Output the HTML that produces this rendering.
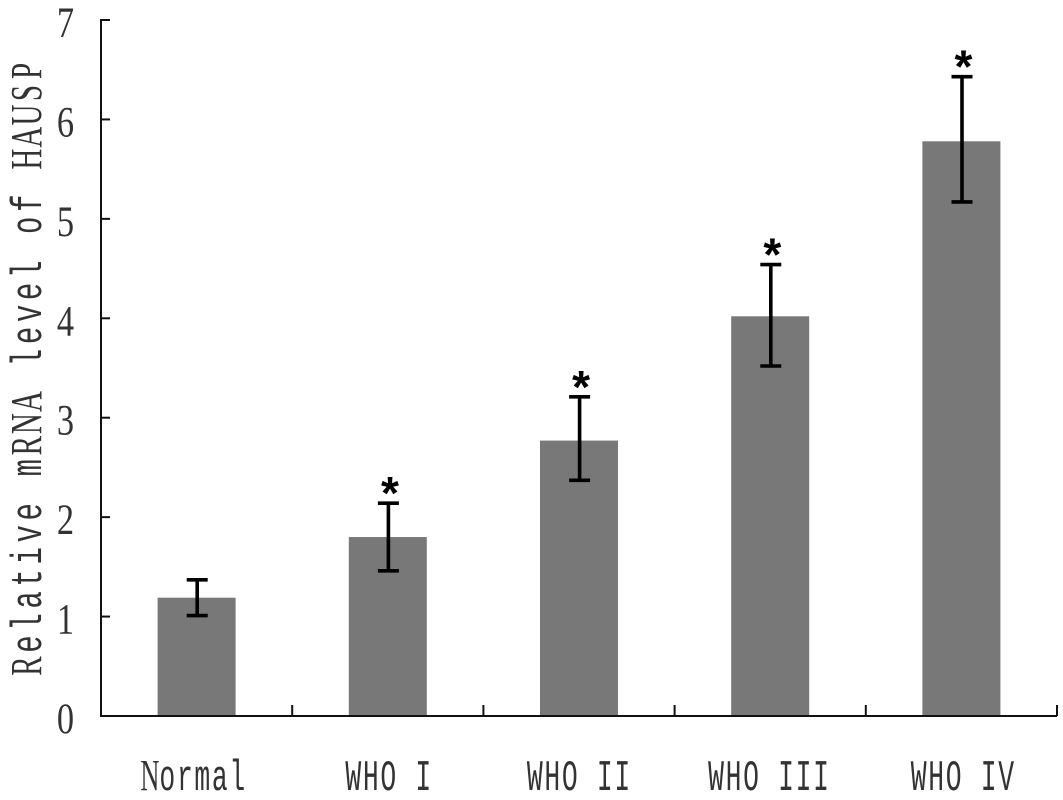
<!DOCTYPE html>
<html>
<head>
<meta charset="utf-8">
<style>
html,body{margin:0;padding:0;background:#fff;}
svg{display:block;}
text{font-family:"Liberation Serif",serif;fill:#333;white-space:pre;}
tspan.m{font-family:"Liberation Mono",monospace;}
</style>
</head>
<body>
<svg id="chart" width="1063" height="800" viewBox="0 0 1063 800" xmlns="http://www.w3.org/2000/svg"></svg>
<script>
const categories = ["Normal", "WHO I", "WHO II", "WHO III", "WHO IV"];
const means = [1.19, 1.80, 2.77, 4.02, 5.78];
const errUpper = [1.37, 2.14, 3.21, 4.54, 6.43];
const errLower = [1.01, 1.46, 2.37, 3.52, 5.17];
const significant = [false, true, true, true, true];
const yTicks = [0, 1, 2, 3, 4, 5, 6, 7];
const yTitle = "Relative mRNA level of HAUSP";

const svg = document.getElementById('chart');
const NS = 'http://www.w3.org/2000/svg';
const X0 = 101, X1 = 1057, Y0 = 716, Y7 = 20;
const yMax = yTicks[yTicks.length - 1];
function yScale(v){ return Y0 - (Y0 - Y7) * v / yMax; }
function bandEdge(i){ return X0 + (X1 - X0) * i / categories.length; }
function bandCenter(i){ return bandEdge(i + 0.5); }

function make(tag, attrs, parent){
  const el = document.createElementNS(NS, tag);
  for (const k in attrs) el.setAttribute(k, attrs[k]);
  (parent || svg).appendChild(el);
  return el;
}
function line(x1, y1, x2, y2, w, color, parent){
  return make('line', {x1, y1, x2, y2, 'stroke-width': w, stroke: color}, parent);
}
// monospaced, condensed glyphs: each character sits on a fixed grid
function monoText(str, size, step, squeeze, parent, monoChars){
  const t = make('text', {'font-size': size, 'text-anchor': 'middle', y: 0, transform: 'scale(' + squeeze + ',1)'}, parent);
  for (let i = 0; i < str.length; i++) {
    const ch = str[i];
    const ts = make('tspan', {x: ((i - (str.length - 1) / 2) * step / squeeze).toFixed(2)}, t);
    if (monoChars.test(ch)) ts.setAttribute('class', 'm');
    ts.textContent = ch;
  }
  return t;
}

// bars
categories.forEach(function(c, i){
  const r = make('rect', {x: bandCenter(i) - 39, y: yScale(means[i]), width: 78, height: Y0 - yScale(means[i]), fill: '#787878'});
  
  
});

// axes
const yAxis = line(X0, Y7 - 1, X0, Y0 + 1, 2, '#111');


const xAxis = line(X0, Y0, X1, Y0, 2, '#111');



yTicks.forEach(function(v){
  const tk = line(X0, yScale(v), X0 + 9, yScale(v), 2, '#111');
  
  
  const g = make('g', {transform: 'translate(65.5,' + (yScale(v) + 17) + ')'});
  
  
  monoText(String(v), 43, 20, 0.8, g, /[a-zI]/);
});

for (let i = 1; i <= categories.length; i++) {
  const tk = line(bandEdge(i), Y0, bandEdge(i), Y0 - 11, 2, '#111');
  
  
}

// error bars and significance stars
categories.forEach(function(c, i){
  const cx = bandCenter(i) + 0.6;
  const g = make('g', {});
  
  
  line(cx, yScale(errUpper[i]), cx, yScale(errLower[i]), 3.6, '#000', g);
  line(cx - 10.5, yScale(errUpper[i]), cx + 10.5, yScale(errUpper[i]), 3.6, '#000', g);
  line(cx - 10.5, yScale(errLower[i]), cx + 10.5, yScale(errLower[i]), 3.6, '#000', g);
  if (significant[i]) {
    const s = make('text', {x: cx + 1.5, y: yScale(errUpper[i]) + 6, 'font-size': 46, 'font-weight': 'bold', 'text-anchor': 'middle'});
    s.style.fill = '#000';
    s.style.fontFamily = '"Liberation Sans",sans-serif';
    
    
    s.textContent = '*';
  }
});

// category labels
categories.forEach(function(c, i){
  const g = make('g', {transform: 'translate(' + (bandCenter(i) + [-3, 0.5, -0.5, -1.7, 1][i]) + ',790)'});
  
  
  monoText(c, 44, 17.5, 0.6, g, /[a-zIWHOV]/);
});

// y axis title
const titleGroup = make('g', {transform: 'translate(41,368.5) rotate(-90)'});


monoText(yTitle, 44, 22.04, 0.66, titleGroup, /[a-zI]/);
</script>
</body>
</html>
